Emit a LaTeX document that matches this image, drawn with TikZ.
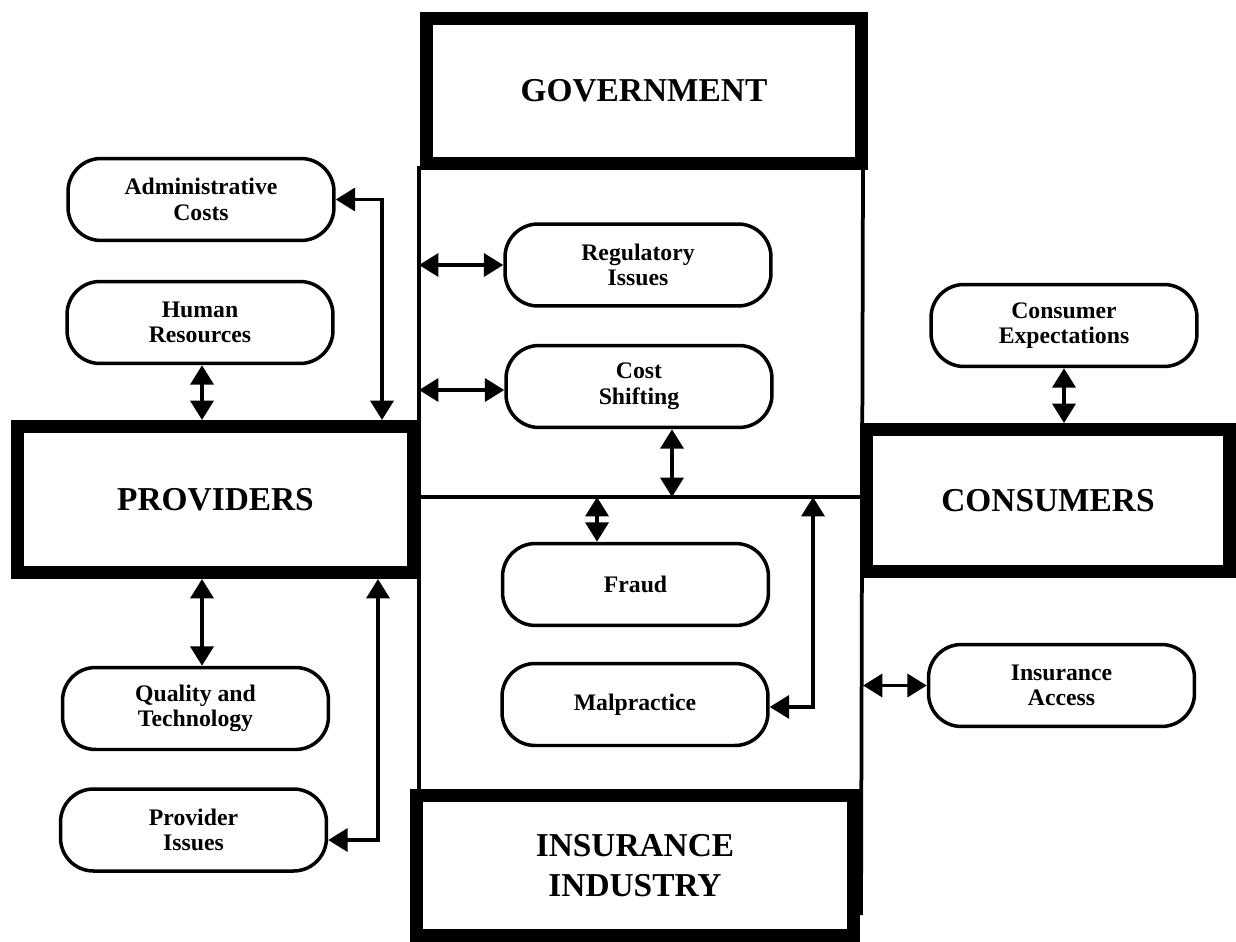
\documentclass[tikz,border=0pt]{standalone}
\usepackage{fontspec}
\setmainfont{Liberation Serif}
\usetikzlibrary{arrows.meta}
\begin{document}
\begin{tikzpicture}[x=0.02cm,y=-0.02cm,
  bigbox/.style={draw, line width=0.25cm, fill=white, inner sep=0pt, align=center,
    font=\fontsize{19}{22.7}\selectfont\bfseries},
  topic/.style={draw, line width=0.07cm, rounded corners=0.66cm, minimum width=5.32cm,
    minimum height=1.64cm, inner sep=0pt, align=center, fill=white,
    font=\fontsize{13.5}{14.5}\selectfont\bfseries},
  frameline/.style={line width=0.075cm},
  link/.style={line width=0.075cm, {Triangle[length=11pt,width=13pt]}-{Triangle[length=11pt,width=13pt]}}
]
\fill[white] (0,0) rectangle (1236,942);
\useasboundingbox (0,0) rectangle (1236,942);

% frame of the middle column
\coordinate (midTL) at (419,166);
\coordinate (midBL) at (419,792);
\coordinate (midTR) at (863,166);
\coordinate (midBR) at (861,915);
\coordinate (midL) at (419,497);
\coordinate (midR) at (863,497);
\draw[frameline] (midTL) -- (midBL);
\draw[frameline] (midTR) -- (midBR);
\draw[frameline] (midL) -- (midR);

% main boxes
\node[bigbox, minimum width=8.71cm, minimum height=2.91cm] (gov) at (644,91) {GOVERNMENT};
\node[bigbox, minimum width=7.93cm, minimum height=2.93cm] (prov) at (215.5,499.5) {PROVIDERS};
\node[bigbox, minimum width=7.27cm, minimum height=2.85cm] (cons) at (1048,500.5) {CONSUMERS};
\node[bigbox, minimum width=8.75cm, minimum height=2.81cm] (ins) at (635,865.5) {INSURANCE\\INDUSTRY};

% topic boxes
\node[topic] (admin) at (201,199.5) {Administrative\\Costs};
\node[topic] (hr) at (200,322.5) {Human\\Resources};
\node[topic] (reg) at (638,265) {Regulatory\\Issues};
\node[topic] (cost) at (639,386.5) {Cost\\Shifting};
\node[topic] (fraud) at (635.5,584.5) {Fraud};
\node[topic] (mal) at (635,704.5) {Malpractice};
\node[topic] (ce) at (1064,325.5) {Consumer\\Expectations};
\node[topic] (ia) at (1061.5,685.5) {Insurance\\Access};
\node[topic] (qual) at (195.5,708.5) {Quality and\\Technology};
\node[topic] (pi) at (193.5,830) {Provider\\Issues};

% helper x positions
\coordinate (admx) at (382,0);
\coordinate (hrx) at (202,0);
\coordinate (pix) at (378,0);
\coordinate (csx) at (672,0);
\coordinate (frx) at (597,0);
\coordinate (malx) at (813,0);

% connectors
\draw[link] (admin.east) -| (prov.north -| admx);
\draw[link] (hr.south -| hrx) -- (prov.north -| hrx);
\draw[link] (prov.south -| hrx) -- (qual.north -| hrx);
\draw[link] ([yshift=-5.7pt]pi.east) -| (prov.south -| pix);
\draw[link] (reg.west) -- (reg.west -| midL);
\draw[link] ([yshift=-2pt]cost.west) -- ([yshift=-2pt]cost.west -| midL);
\draw[link] (cost.south -| csx) -- (midL -| csx);
\draw[link] (midL -| frx) -- (fraud.north -| frx);
\draw[link] ([yshift=-1.4pt]mal.east) -| (midL -| malx);
\draw[link] (ce.south) -- (ce.south |- cons.north);
\draw[link] (ia.west) -- (ia.west -| midR);
\end{tikzpicture}
\end{document}
